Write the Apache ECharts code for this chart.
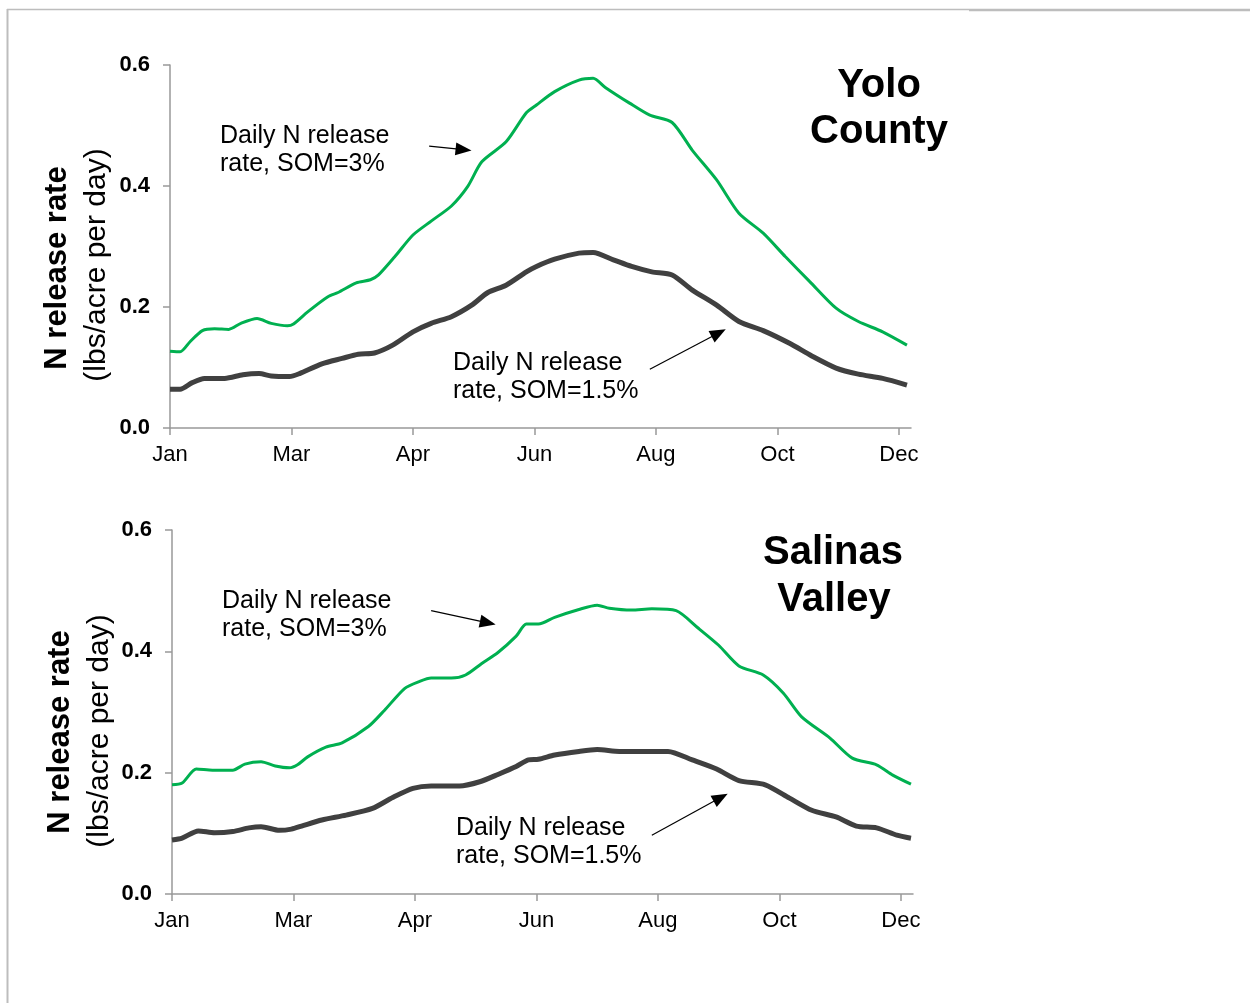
<!DOCTYPE html>
<html>
<head>
<meta charset="utf-8">
<script src="https://cdn.jsdelivr.net/npm/echarts@6/dist/echarts.min.js"></script>
<style>
  html, body { margin: 0; padding: 0; background: #fff; }
  #chart { width: 1250px; height: 1003px; }
</style>
</head>
<body>
<div id="chart"></div>
<script>
// tick labels sit every 60 days along a day-of-year axis
const tickDays = [0, 60, 120, 180, 240, 300, 360]
const tickLabels = ['Jan', 'Mar', 'Apr', 'Jun', 'Aug', 'Oct', 'Dec']

// Yolo County, SOM = 3%
const yoloHighDays = [0, 5, 10, 16, 22, 29, 35, 43, 50, 58, 61, 68, 78, 83, 92, 99, 103, 111, 120, 129, 139, 147, 154, 166, 176, 181, 190, 202, 209, 215, 227, 237, 248, 258, 270, 281, 293, 304, 316, 329, 340, 352, 364]
const yoloHigh = [0.127, 0.126, 0.143, 0.161, 0.164, 0.163, 0.173, 0.181, 0.173, 0.169, 0.172, 0.192, 0.217, 0.224, 0.240, 0.245, 0.253, 0.283, 0.319, 0.342, 0.367, 0.399, 0.440, 0.473, 0.521, 0.534, 0.556, 0.575, 0.578, 0.563, 0.537, 0.517, 0.505, 0.459, 0.410, 0.355, 0.322, 0.283, 0.242, 0.198, 0.176, 0.159, 0.137]

// Yolo County, SOM = 1.5%
const yoloLowDays = [0, 5, 11, 17, 27, 36, 44, 50, 59, 64, 75, 85, 93, 101, 110, 120, 129, 139, 149, 157, 166, 176, 181, 190, 202, 209, 219, 228, 238, 248, 258, 270, 281, 293, 306, 317, 329, 340, 352, 364]
const yoloLow = [0.064, 0.064, 0.075, 0.082, 0.082, 0.088, 0.090, 0.086, 0.085, 0.090, 0.106, 0.115, 0.122, 0.124, 0.137, 0.159, 0.173, 0.184, 0.203, 0.224, 0.236, 0.258, 0.267, 0.279, 0.289, 0.290, 0.278, 0.267, 0.258, 0.253, 0.228, 0.203, 0.176, 0.161, 0.140, 0.119, 0.099, 0.089, 0.082, 0.071]

// Salinas Valley, SOM = 3%
const salinasHighDays = [0, 5, 12, 20, 30, 36, 44, 51, 58, 62, 67, 76, 84, 97, 105, 115, 122, 128, 138, 145, 153, 161, 170, 175, 181, 189, 201, 210, 216, 227, 237, 249, 260, 270, 280, 292, 302, 311, 325, 336, 348, 356, 365]
const salinasHigh = [0.180, 0.183, 0.206, 0.204, 0.204, 0.214, 0.218, 0.211, 0.208, 0.213, 0.226, 0.242, 0.249, 0.276, 0.303, 0.339, 0.350, 0.356, 0.356, 0.361, 0.380, 0.398, 0.425, 0.445, 0.445, 0.456, 0.469, 0.476, 0.471, 0.468, 0.470, 0.467, 0.438, 0.410, 0.376, 0.361, 0.331, 0.292, 0.257, 0.224, 0.213, 0.196, 0.181]

// Salinas Valley, SOM = 1.5%
const salinasLowDays = [0, 5, 13, 21, 30, 38, 44, 53, 59, 64, 74, 86, 99, 109, 119, 128, 142, 152, 161, 170, 176, 181, 189, 201, 210, 221, 232, 245, 257, 269, 280, 293, 305, 316, 328, 338, 348, 358, 365]
const salinasLow = [0.089, 0.092, 0.104, 0.101, 0.103, 0.109, 0.111, 0.105, 0.107, 0.112, 0.122, 0.130, 0.141, 0.159, 0.174, 0.178, 0.178, 0.185, 0.197, 0.210, 0.221, 0.222, 0.229, 0.235, 0.238, 0.235, 0.235, 0.235, 0.221, 0.206, 0.187, 0.180, 0.158, 0.138, 0.127, 0.112, 0.109, 0.097, 0.092]

// annotation arrows, in data coords [day, value]
const yoloArrows = [[[128, 0.466], [145, 0.460]], [[237, 0.097], [271, 0.157]]]
const salinasArrows = [[[128, 0.467], [156, 0.447]], [[237, 0.097], [271, 0.159]]]

const font = 'Liberation Sans, Arial, sans-serif'
const axisGray = '#999999'
const green = '#00b050'
const dark = '#404040'

function pairs(days, vals) {
    return days.map((d, i) => [d, vals[i]])
}

function xAxisFor(gridIndex) {
    return {
        gridIndex,
        type: 'value',
        min: 0,
        max: 366,
        interval: 60,
        splitLine: { show: false },
        axisLine: { lineStyle: { color: axisGray, width: 1.5 } },
        axisTick: { length: 7, customValues: tickDays, lineStyle: { color: axisGray, width: 1.5 } },
        axisLabel: {
            customValues: tickDays,
            margin: 16,
            fontFamily: font,
            fontSize: 22,
            color: '#000',
            formatter: v => tickLabels[tickDays.indexOf(v)] || '',
        },
    }
}

function yAxisFor(gridIndex) {
    return {
        gridIndex,
        type: 'value',
        min: 0,
        max: 0.6,
        interval: 0.2,
        splitLine: { show: false },
        axisLine: { show: true, lineStyle: { color: axisGray, width: 1.5 } },
        axisTick: { show: true, length: 7, lineStyle: { color: axisGray, width: 1.5 } },
        axisLabel: {
            margin: 20,
            fontFamily: font,
            fontSize: 22,
            fontWeight: 'bold',
            color: '#000',
            formatter: v => v.toFixed(1),
        },
    }
}

function arrowMarks(arrows) {
    return {
        silent: true,
        symbol: ['none', 'triangle'],
        symbolSize: [13, 16],
        lineStyle: { color: '#000', width: 1.2, type: 'solid' },
        label: { show: false },
        data: arrows.map(a => [{ coord: a[0] }, { coord: a[1] }]),
    }
}

function lineSeries(idx, data, color, width, arrows) {
    const s = {
        type: 'line',
        xAxisIndex: idx,
        yAxisIndex: idx,
        data,
        showSymbol: false,
        smooth: 0.25,
        lineStyle: { color, width },
        itemStyle: { color },
    }
    if (arrows) s.markLine = arrowMarks(arrows)
    return s
}

function text(str, x, y, size, weight) {
    return {
        type: 'text',
        x, y,
        style: {
            text: str,
            font: `${weight} ${size}px ${font}`,
            fill: '#000',
            align: 'left',
            verticalAlign: 'middle',
            lineHeight: 28,
        },
    }
}

function rotText(str, x, y, size, weight) {
    return {
        type: 'text',
        x, y,
        rotation: Math.PI / 2,
        style: {
            text: str,
            font: `${weight} ${size}px ${font}`,
            fill: '#000',
            align: 'center',
            verticalAlign: 'middle',
        },
    }
}

function titleText(str, x, y) {
    return {
        type: 'text',
        x, y,
        style: {
            text: str,
            font: `bold 40px ${font}`,
            fill: '#000',
            align: 'center',
            verticalAlign: 'middle',
        },
    }
}

const chart = echarts.init(document.getElementById('chart'))
chart.setOption({
    animation: false,
    backgroundColor: '#fff',
    grid: [
        { left: 170, top: 65, width: 741, height: 363 },
        { left: 172, top: 530, width: 741, height: 364 },
    ],
    xAxis: [xAxisFor(0), xAxisFor(1)],
    yAxis: [yAxisFor(0), yAxisFor(1)],
    series: [
        lineSeries(0, pairs(yoloLowDays, yoloLow), dark, 5, null),
        lineSeries(0, pairs(yoloHighDays, yoloHigh), green, 3, yoloArrows),
        lineSeries(1, pairs(salinasLowDays, salinasLow), dark, 5, null),
        lineSeries(1, pairs(salinasHighDays, salinasHigh), green, 3, salinasArrows),
    ],
    graphic: [
        // slide frame
        { type: 'line', shape: { x1: 7, y1: 9.5, x2: 969, y2: 9.5 }, style: { stroke: '#bdbdbd', lineWidth: 1.5 } },
        { type: 'line', shape: { x1: 969, y1: 10, x2: 1250, y2: 10 }, style: { stroke: '#bdbdbd', lineWidth: 2.5 } },
        { type: 'line', shape: { x1: 7.5, y1: 9, x2: 7.5, y2: 1003 }, style: { stroke: '#bdbdbd', lineWidth: 2 } },

        titleText('Yolo', 879, 86),
        titleText('County', 879, 132),
        titleText('Salinas', 833, 553),
        titleText('Valley', 834, 600),

        rotText('N release rate', 57, 268, 31, 'bold'),
        rotText('(lbs/acre per day)', 97, 265, 30, 'normal'),
        rotText('N release rate', 60, 732, 31, 'bold'),
        rotText('(lbs/acre per day)', 100, 731, 30, 'normal'),

        text('Daily N release\nrate, SOM=3%', 220, 150, 25, 'normal'),
        text('Daily N release\nrate, SOM=1.5%', 453, 377, 25, 'normal'),
        text('Daily N release\nrate, SOM=3%', 222, 615, 25, 'normal'),
        text('Daily N release\nrate, SOM=1.5%', 456, 842, 25, 'normal'),
    ],
})
</script>
</body>
</html>
